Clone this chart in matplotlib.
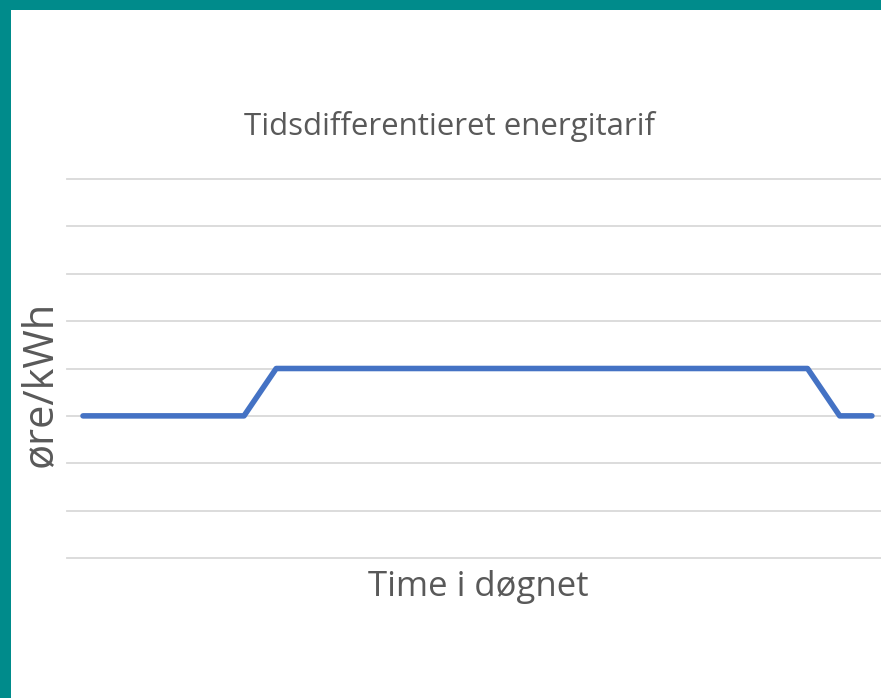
import matplotlib
matplotlib.use("Agg")
import matplotlib.pyplot as plt
from matplotlib.patches import Rectangle

# Data (hours of the day vs relative tariff level)
hours = [0, 5, 6, 22.5, 23.5, 24.5]
tariff = [3, 3, 4, 4, 3, 3]

title = "Tidsdifferentieret energitarif"
xlabel = "Time i døgnet"
ylabel = "øre/kWh"

W, H = 881, 698
fig = plt.figure(figsize=(W / 100, H / 100), dpi=100)
fig.patch.set_facecolor("white")

# teal frame (top and left)
teal = "#008B8B"
fig.patches.append(Rectangle((0, 1 - 10 / H), 1, 10 / H, transform=fig.transFigure,
                             facecolor=teal, edgecolor="none", zorder=0))
fig.patches.append(Rectangle((0, 0), 11 / W, 1, transform=fig.transFigure,
                             facecolor=teal, edgecolor="none", zorder=0))

ax_left = 67 / W
ax_bottom = (H - 558) / H
ax_top = (H - 179) / H
ax = fig.add_axes([ax_left, ax_bottom, 1 - ax_left, ax_top - ax_bottom])
ax.set_facecolor("none")

ax.set_ylim(0, 8)
x0 = 83
pxh = 32.2
ax.set_xlim((67 - x0) / pxh, (W - x0) / pxh)

for y in range(0, 9):
    ax.axhline(y, color="#D9D9D9", lw=1.3, zorder=1, clip_on=False)

ax.plot(hours, tariff, color="#4472C4", lw=4.0, solid_capstyle="round",
        solid_joinstyle="round", zorder=3)

for s in ax.spines.values():
    s.set_visible(False)
ax.set_xticks([])
ax.set_yticks([])

font = "Open Sans"
fig.text(449 / W, 1 - 135 / H, title, ha="center", va="baseline",
         fontsize=22.5, color="#595959", family=font)
fig.text(478 / W, 1 - 596 / H, xlabel, ha="center", va="baseline",
         fontsize=25, color="#595959", family=font)
fig.text(40 / W, 1 - 384 / H, ylabel, ha="center", va="center", rotation=90,
         fontsize=30, color="#595959", family=font)

fig.savefig("out.png", dpi=100, facecolor="white")
